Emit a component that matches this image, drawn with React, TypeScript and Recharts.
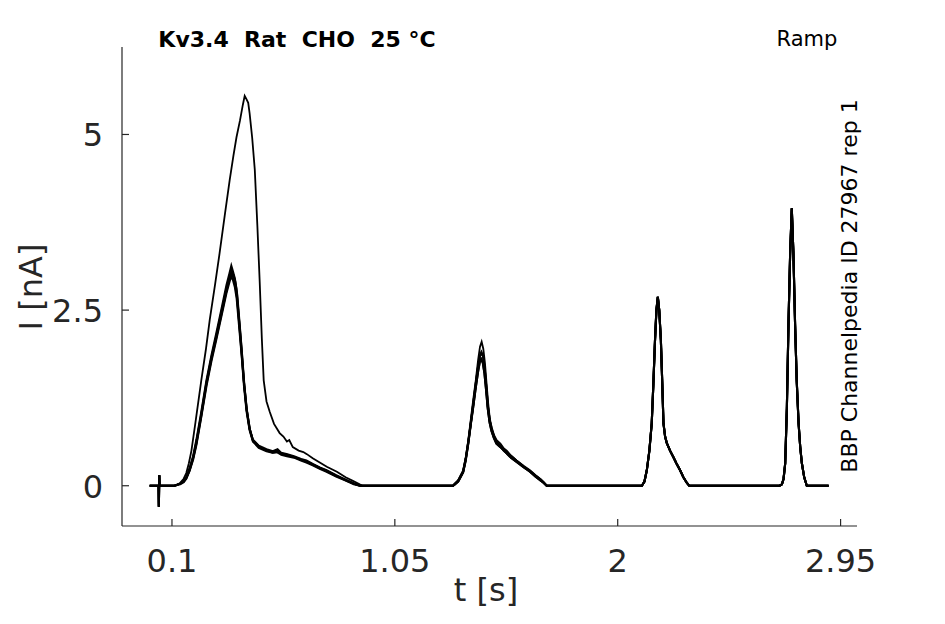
import React from 'react'
import { LineChart, Line, XAxis, YAxis } from 'recharts'

// [t (s), I (nA)] pairs
const baseline: number[][] = [
  [0.005, 0], [0.043, 0], [0.044, -0.3], [0.046, 0.15], [0.047, 0], [0.11, 0], [0.12, 0.01],
]

const pulse1Big: number[][] = [
  [0.135, 0.04], [0.15, 0.1], [0.161, 0.18], [0.172, 0.32], [0.183, 0.5], [0.2, 0.9],
  [0.225, 1.5], [0.245, 1.95], [0.261, 2.36], [0.283, 2.85], [0.303, 3.31], [0.325, 3.85],
  [0.346, 4.35], [0.362, 4.7], [0.375, 4.96], [0.39, 5.2], [0.402, 5.42], [0.41, 5.55],
  [0.418, 5.5], [0.425, 5.45], [0.431, 5.3], [0.442, 4.95], [0.453, 4.5], [0.464, 3.7],
  [0.474, 2.9], [0.483, 2.1], [0.491, 1.5], [0.503, 1.2], [0.517, 1.05], [0.535, 0.88],
  [0.559, 0.75], [0.575, 0.7], [0.59, 0.63], [0.6, 0.65], [0.615, 0.55], [0.64, 0.5],
  [0.66, 0.48], [0.675, 0.45], [0.7, 0.39], [0.73, 0.33], [0.76, 0.27], [0.803, 0.2],
  [0.84, 0.12], [0.871, 0.07], [0.9, 0.02], [0.914, 0],
]

const pulse1A: number[][] = [
  [0.135, 0.03], [0.15, 0.07], [0.161, 0.12], [0.175, 0.25], [0.19, 0.42], [0.204, 0.65],
  [0.225, 1.05], [0.247, 1.5], [0.268, 1.85], [0.289, 2.17], [0.31, 2.5], [0.332, 2.85],
  [0.345, 3.02], [0.353, 3.13], [0.36, 3.05], [0.368, 2.95], [0.375, 2.8], [0.385, 2.4],
  [0.396, 1.97], [0.406, 1.5], [0.417, 1.12], [0.43, 0.82], [0.444, 0.66], [0.47, 0.57],
  [0.503, 0.52], [0.53, 0.49], [0.55, 0.52], [0.565, 0.47], [0.588, 0.45], [0.62, 0.42],
  [0.65, 0.38], [0.673, 0.36], [0.7, 0.31], [0.73, 0.26], [0.759, 0.22], [0.8, 0.15],
  [0.844, 0.08], [0.875, 0.03], [0.901, 0],
]

const pulse1B: number[][] = [
  [0.135, 0.03], [0.15, 0.06], [0.161, 0.11], [0.175, 0.23], [0.19, 0.4], [0.204, 0.62],
  [0.225, 1.02], [0.247, 1.47], [0.268, 1.82], [0.289, 2.13], [0.31, 2.46], [0.332, 2.8],
  [0.345, 2.97], [0.355, 3.06], [0.362, 3.0], [0.37, 2.9], [0.378, 2.72], [0.388, 2.32],
  [0.398, 1.9], [0.408, 1.45], [0.419, 1.08], [0.432, 0.8], [0.446, 0.64], [0.472, 0.55],
  [0.505, 0.5], [0.53, 0.47], [0.552, 0.48], [0.568, 0.45], [0.59, 0.43], [0.62, 0.41],
  [0.652, 0.37], [0.675, 0.34], [0.702, 0.3], [0.732, 0.25], [0.76, 0.21], [0.8, 0.14],
  [0.845, 0.07], [0.878, 0.03], [0.905, 0],
]

const pulse1C: number[][] = [
  [0.135, 0.02], [0.15, 0.05], [0.161, 0.1], [0.175, 0.21], [0.19, 0.37], [0.204, 0.58],
  [0.225, 0.98], [0.247, 1.42], [0.268, 1.77], [0.289, 2.08], [0.31, 2.4], [0.332, 2.74],
  [0.345, 2.9], [0.352, 2.98], [0.36, 2.93], [0.368, 2.83], [0.376, 2.66], [0.386, 2.28],
  [0.397, 1.86], [0.407, 1.42], [0.418, 1.06], [0.431, 0.79], [0.445, 0.63], [0.47, 0.54],
  [0.503, 0.49], [0.528, 0.47], [0.548, 0.48], [0.566, 0.44], [0.59, 0.42], [0.62, 0.4],
  [0.65, 0.36], [0.673, 0.33], [0.7, 0.29], [0.73, 0.24], [0.759, 0.2], [0.8, 0.13],
  [0.843, 0.07], [0.875, 0.02], [0.9, 0],
]

const pulse1D: number[][] = [
  [0.135, 0.03], [0.15, 0.06], [0.161, 0.11], [0.175, 0.22], [0.19, 0.39], [0.204, 0.6],
  [0.225, 1.0], [0.247, 1.45], [0.268, 1.8], [0.289, 2.11], [0.31, 2.43], [0.332, 2.77],
  [0.345, 2.95], [0.354, 3.02], [0.361, 2.97], [0.369, 2.87], [0.377, 2.69], [0.387, 2.3],
  [0.397, 1.88], [0.408, 1.43], [0.419, 1.07], [0.432, 0.8], [0.446, 0.63], [0.471, 0.56],
  [0.504, 0.5], [0.529, 0.48], [0.55, 0.5], [0.567, 0.46], [0.59, 0.44], [0.62, 0.41],
  [0.651, 0.37], [0.674, 0.35], [0.701, 0.3], [0.731, 0.25], [0.76, 0.21], [0.8, 0.14],
  [0.844, 0.08], [0.876, 0.03], [0.903, 0],
]

const pulse2High: number[][] = [
  [1.298, 0], [1.306, 0.03], [1.32, 0.08], [1.341, 0.22], [1.352, 0.4], [1.363, 0.65],
  [1.374, 0.95], [1.384, 1.22], [1.395, 1.5], [1.405, 1.79], [1.413, 1.98], [1.42, 2.05],
  [1.427, 1.95], [1.434, 1.75], [1.441, 1.45], [1.448, 1.17], [1.455, 0.95], [1.463, 0.83],
  [1.473, 0.72], [1.484, 0.65], [1.5, 0.6], [1.515, 0.53], [1.527, 0.5], [1.545, 0.43],
  [1.569, 0.36], [1.6, 0.28], [1.626, 0.22], [1.65, 0.15], [1.669, 0.1], [1.685, 0.05],
  [1.697, 0],
]

const pulse2Mid: number[][] = [
  [1.298, 0], [1.306, 0.03], [1.32, 0.07], [1.341, 0.2], [1.352, 0.38], [1.363, 0.62],
  [1.374, 0.9], [1.384, 1.16], [1.395, 1.45], [1.405, 1.7], [1.413, 1.85], [1.419, 1.9],
  [1.426, 1.84], [1.433, 1.66], [1.44, 1.4], [1.447, 1.12], [1.455, 0.92], [1.463, 0.8],
  [1.473, 0.7], [1.484, 0.62], [1.5, 0.57], [1.515, 0.52], [1.528, 0.47], [1.546, 0.42],
  [1.57, 0.35], [1.6, 0.27], [1.626, 0.21], [1.65, 0.14], [1.67, 0.09], [1.686, 0.04],
  [1.698, 0],
]

const pulse2Low: number[][] = [
  [1.298, 0], [1.306, 0.02], [1.32, 0.06], [1.341, 0.19], [1.352, 0.36], [1.363, 0.6],
  [1.374, 0.88], [1.384, 1.12], [1.395, 1.4], [1.405, 1.63], [1.412, 1.76], [1.418, 1.8],
  [1.425, 1.75], [1.432, 1.6], [1.439, 1.36], [1.446, 1.1], [1.454, 0.9], [1.462, 0.78],
  [1.472, 0.68], [1.483, 0.6], [1.5, 0.55], [1.514, 0.5], [1.527, 0.46], [1.545, 0.4],
  [1.569, 0.34], [1.6, 0.26], [1.626, 0.2], [1.65, 0.13], [1.669, 0.08], [1.685, 0.04],
  [1.697, 0],
]

const pulse3: number[][] = [
  [2.103, 0], [2.114, 0.06], [2.124, 0.22], [2.135, 0.5], [2.145, 0.89], [2.152, 1.45],
  [2.159, 2.07], [2.165, 2.5], [2.171, 2.69], [2.177, 2.5], [2.184, 2.07], [2.19, 1.45],
  [2.195, 0.89], [2.202, 0.7], [2.209, 0.61], [2.223, 0.5], [2.237, 0.41], [2.25, 0.32],
  [2.266, 0.22], [2.28, 0.12], [2.295, 0.04], [2.305, 0],
]

const pulse4: number[][] = [
  [2.69, 0], [2.7, 0.02], [2.707, 0.1], [2.714, 0.32], [2.721, 1.1], [2.728, 2.31],
  [2.735, 3.3], [2.742, 3.95], [2.749, 3.3], [2.756, 2.31], [2.763, 1.5], [2.771, 0.89],
  [2.778, 0.55], [2.785, 0.32], [2.795, 0.12], [2.806, 0], [2.899, 0],
]

const xTicks = [0.1, 1.05, 2, 2.95]
const yTicks = [0, 2.5, 5]

const title = 'Kv3.4  Rat  CHO  25 °C'
const protocol = 'Ramp'
const sourceNote = 'BBP Channelpedia ID 27967 rep 1'

const toRows = (...parts: number[][][]) =>
  parts.flat().map(([t, i]) => ({ t, i }))

const sweeps = [
  toRows(baseline, pulse1Big, pulse2High, pulse3, pulse4),
  toRows(baseline, pulse1A, pulse2Mid, pulse3, pulse4),
  toRows(baseline, pulse1B, pulse2Mid, pulse3, pulse4),
  toRows(baseline, pulse1C, pulse2Low, pulse3, pulse4),
  toRows(baseline, pulse1D, pulse2Low, pulse3, pulse4),
]

const axisColor = '#262626'
const font = '"DejaVu Sans", sans-serif'

const XTick = (props: any) => {
  const { x, y, payload } = props
  return (
    <g>
      <line x1={x} x2={x} y1={y} y2={y - 7} stroke={axisColor} strokeWidth={1.2} />
      <text x={x} y={y + 46} textAnchor="middle" fill={axisColor} fontSize={32} fontFamily={font}>
        {String(payload.value)}
      </text>
    </g>
  )
}

const YTick = (props: any) => {
  const { x, y, payload } = props
  return (
    <g>
      <line x1={x} x2={x + 7} y1={y} y2={y} stroke={axisColor} strokeWidth={1.2} />
      <text x={x - 19} y={y + 12} textAnchor="end" fill={axisColor} fontSize={32} fontFamily={font}>
        {String(payload.value)}
      </text>
    </g>
  )
}

export default function App() {
  return (
    <div style={{ position: 'absolute', left: 0, top: 0, width: 945, height: 624, background: '#fff' }}>
      <LineChart width={945} height={624} margin={{ top: 47, right: 88, bottom: 0, left: 0 }}>
        <XAxis
          type="number"
          dataKey="t"
          domain={[-0.113, 3.02]}
          ticks={xTicks}
          allowDataOverflow
          height={98}
          tickSize={0}
          tickMargin={0}
          tickLine={false}
          tick={<XTick />}
          axisLine={{ stroke: axisColor, strokeWidth: 1.2 }}
        />
        <YAxis
          type="number"
          domain={[-0.573, 6.245]}
          ticks={yTicks}
          allowDataOverflow
          width={122}
          tickSize={0}
          tickMargin={0}
          tickLine={false}
          tick={<YTick />}
          axisLine={{ stroke: axisColor, strokeWidth: 1.2 }}
        />
        {sweeps.map((rows, k) => (
          <Line
            key={k}
            data={rows}
            dataKey="i"
            type="linear"
            stroke="#000"
            strokeWidth={k === 0 ? 1.8 : 2.1}
            dot={false}
            activeDot={false}
            isAnimationActive={false}
          />
        ))}
      </LineChart>
      <svg
        width={945}
        height={624}
        style={{ position: 'absolute', left: 0, top: 0, pointerEvents: 'none' }}
      >
        <text x={297} y={47} textAnchor="middle" fontSize={22} fontWeight="bold" fontFamily={font} fill="#000" style={{ whiteSpace: 'pre' }}>
          {title}
        </text>
        <text x={807} y={46} textAnchor="middle" fontSize={21} fontFamily={font} fill="#000">
          {protocol}
        </text>
        <text
          x={0}
          y={0}
          transform="translate(857 286) rotate(-90)"
          textAnchor="middle"
          fontSize={22}
          fontFamily={font}
          fill="#000"
        >
          {sourceNote}
        </text>
        <text x={486} y={601} textAnchor="middle" fontSize={32} fontFamily={font} fill={axisColor}>
          t [s]
        </text>
        <text
          x={0}
          y={0}
          transform="translate(42 287) rotate(-90)"
          textAnchor="middle"
          fontSize={32}
          fontFamily={font}
          fill={axisColor}
        >
          I [nA]
        </text>
      </svg>
    </div>
  )
}
